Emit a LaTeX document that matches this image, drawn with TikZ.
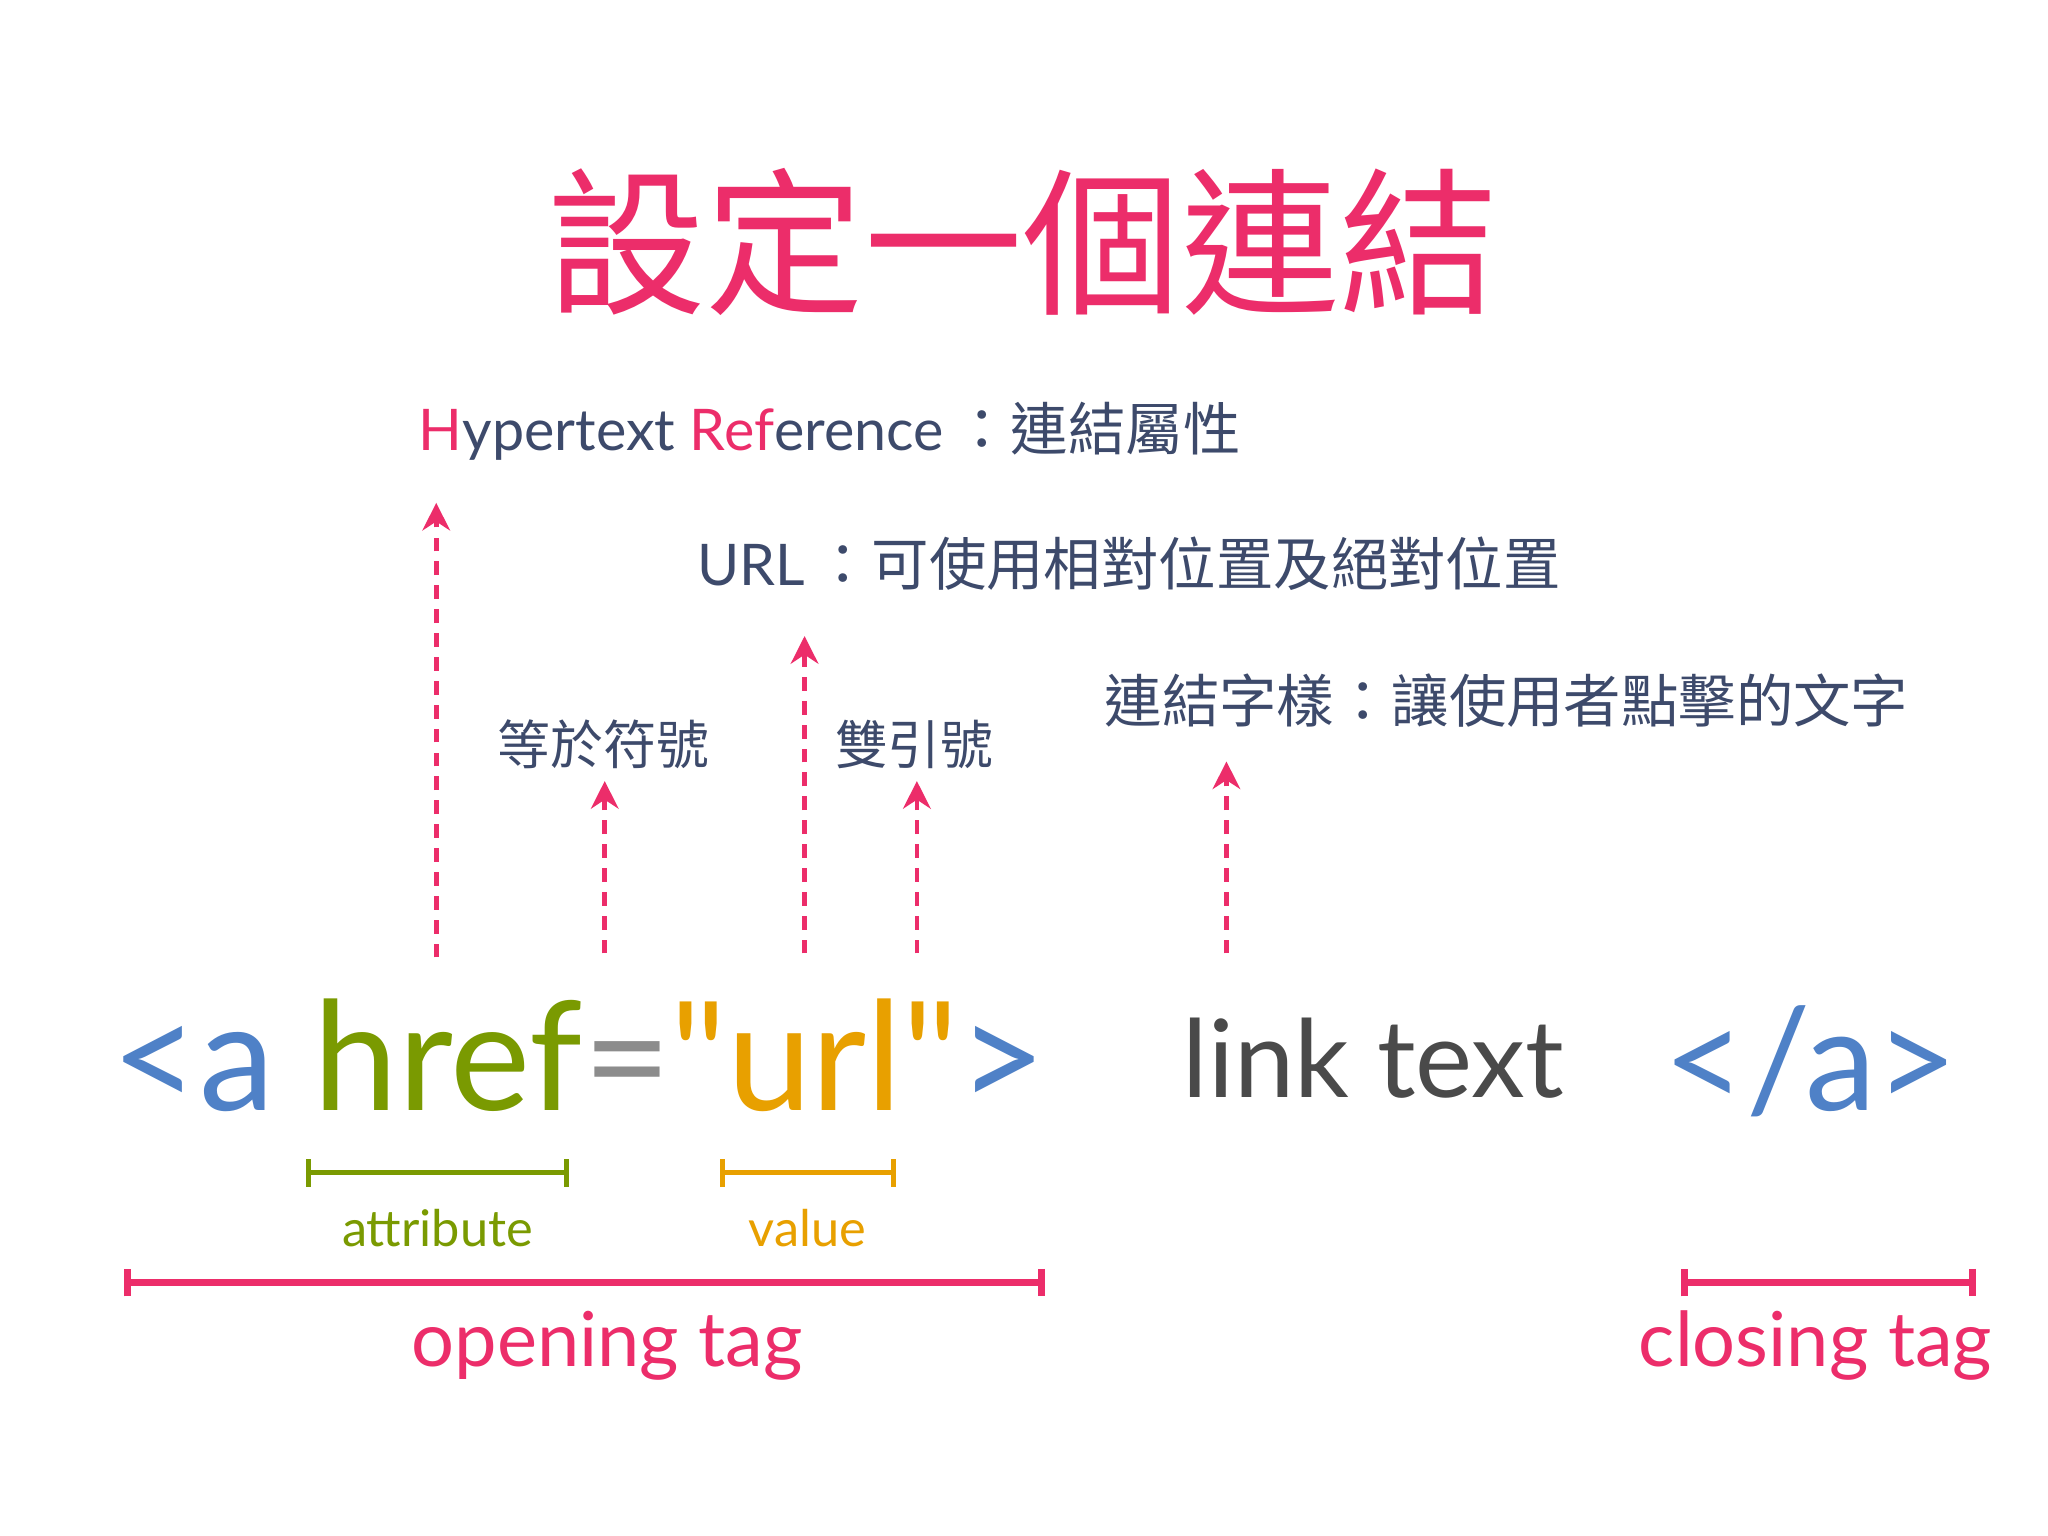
\documentclass[tikz,border=0pt]{standalone}
\usepackage{fontspec}
\setmainfont{Lato}
\newfontfamily\cjk{Noto Sans CJK TC}
\newfontfamily\codefont{Lato}
\usetikzlibrary{arrows.meta}
\definecolor{pk}{HTML}{EC2D6A}
\definecolor{bl}{HTML}{4F81C7}
\definecolor{gr}{HTML}{7A9A01}
\definecolor{gy}{HTML}{8C8C8C}
\definecolor{og}{HTML}{E8A000}
\definecolor{nv}{HTML}{3D4A6B}
\definecolor{lk}{HTML}{4A4A4A}
\tikzset{
  up/.style={pk,line width=1pt,dash pattern=on 3pt off 2.2pt,-{Stealth[length=6pt,width=6pt]}},
  lab/.style={inner sep=0pt,text=nv,font=\cjk\fontsize{12.5}{14}\selectfont},
  brk/.style={line width=1.1pt,{Bar[width=6pt]}-{Bar[width=6pt]}},
}
\begin{document}
\begin{tikzpicture}[x=0.01cm,y=-0.01cm]
\useasboundingbox[fill=white] (0,0) rectangle (1568,1176);
\node[inner sep=0pt,text=pk,font=\cjk\fontsize{34.5}{38}\selectfont] (title) at (783,185) {設定一個連結};
\node[lab,anchor=base west] (href) at (320,345) {{\codefont\textcolor{pk}{H}ypertext \textcolor{pk}{Ref}erence\,}：連結屬性};
\node[lab,anchor=base west] (url) at (533,448) {{\codefont URL\,}：可使用相對位置及絕對位置};
\node[lab,anchor=base west] (lt) at (845,553) {連結字樣：讓使用者點擊的文字};
\node[lab,font=\cjk\fontsize{11.5}{13}\selectfont] (eq) at (462,570) {等於符號};
\node[lab,font=\cjk\fontsize{11.5}{13}\selectfont] (qt) at (700,570) {雙引號};
\coordinate (a1) at (334,733); \coordinate (b1) at (334,385);
\coordinate (a2) at (463,730); \coordinate (b2) at (463,598);
\coordinate (a3) at (616,730); \coordinate (b3) at (616,487);
\coordinate (a4) at (702,730); \coordinate (b4) at (702,598);
\coordinate (a5) at (939,730); \coordinate (b5) at (939,583);
\foreach \i in {1,...,5} \draw[up] (a\i) -- (b\i);
\node[inner sep=0pt,anchor=base west,font=\codefont\fontsize{33}{36}\selectfont] (code) at (85,850)
  {\textcolor{bl}{<a} \textcolor{gr}{href}\textcolor{gy}{=}\textcolor{og}{"url"}\textcolor{bl}{>}};
\node[inner sep=0pt,anchor=base west,text=lk,font=\codefont\fontsize{23.5}{28}\selectfont] (link) at (905,840) {link text};
\node[inner sep=0pt,anchor=base east,text=bl,font=\codefont\fontsize{31}{36}\selectfont] (close) at (1500,850) {</a>};
\coordinate (g1) at (234,898); \coordinate (g2) at (436,898);
\draw[brk,gr] (g1) -- (g2);
\node[text=gr,inner sep=0pt,font=\fontsize{11}{13}\selectfont] (attr) at (335,940) {attribute};
\coordinate (o1) at (551,898); \coordinate (o2) at (686,898);
\draw[brk,og] (o1) -- (o2);
\node[text=og,inner sep=0pt,font=\fontsize{11}{13}\selectfont] (val) at (618,940) {value};
\coordinate (p1) at (95,982); \coordinate (p2) at (800,982);
\draw[brk,pk,line width=1.6pt] (p1) -- (p2);
\node[text=pk,inner sep=0pt,font=\fontsize{16.5}{20}\selectfont] (ot) at (465,1030) {opening tag};
\coordinate (c1) at (1287,982); \coordinate (c2) at (1513,982);
\draw[brk,pk,line width=1.6pt] (c1) -- (c2);
\node[text=pk,inner sep=0pt,font=\fontsize{16.5}{20}\selectfont] (ct) at (1390,1030) {closing tag};
\end{tikzpicture}
\end{document}
